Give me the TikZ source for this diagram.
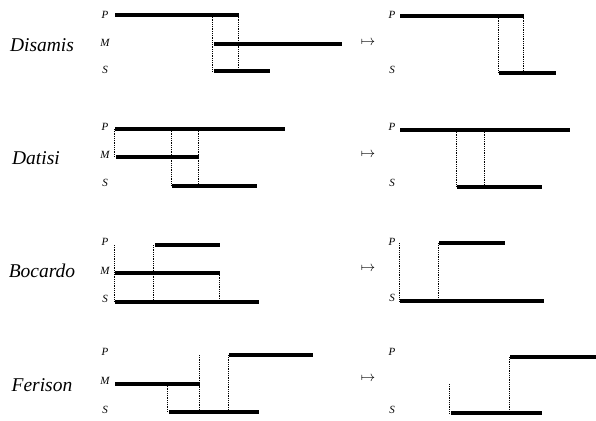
\documentclass[tikz,border=0pt]{standalone}
\usepackage{pgf}
\usepackage{fontspec}
\setmainfont{Liberation Serif}
\usetikzlibrary{positioning}

\begin{document}
\begin{tikzpicture}[x=1pt,y=-1pt,font=\large]
		\tikzstyle{bar}=[line width=3.2pt]
		\tikzstyle{guide}=[line width=0.7pt,dash pattern=on 0.8pt off 1pt]
		\tikzstyle{term}=[font=\fontsize{11}{13}\selectfont\itshape]
		\tikzstyle{mood}=[font=\fontsize{19.5}{23}\selectfont\itshape]
		\tikzstyle{maps}=[font=\Large]
		\useasboundingbox (0,0) rectangle (596,420);
		
		% Disamis
		\node[mood]  (disamis) at (42,45)  {Disamis};
		\node[term]  (p1)  at (105,15)  {P};
		\node[term]  (m1)  at (105,43)  {M};
		\node[term]  (s1)  at (105,70)  {S};
		\draw[bar]   (115,15) -- (239,15);
		\draw[bar]   (214,44) -- (342,44);
		\draw[bar]   (214,71) -- (270,71);
		\draw[guide] (212,15) -- (212,71);
		\draw[guide] (238,15) -- (238,71);
		\node[maps]  (to1) at (368,43)  {$\mapsto$};
		\node[term]  (p1r) at (392,15)  {P};
		\node[term]  (s1r) at (392,70)  {S};
		\draw[bar]   (400,16) -- (524,16);
		\draw[bar]   (499,73) -- (556,73);
		\draw[guide] (498,16) -- (498,73);
		\draw[guide] (523,16) -- (523,73);
		
		% Datisi
		\node[mood]  (datisi) at (36,158)  {Datisi};
		\node[term]  (p2)  at (105,127) {P};
		\node[term]  (m2)  at (105,155) {M};
		\node[term]  (s2)  at (105,183) {S};
		\draw[bar]   (115,129) -- (285,129);
		\draw[bar]   (116,157) -- (199,157);
		\draw[bar]   (172,186) -- (257,186);
		\draw[guide] (114,129) -- (114,157);
		\draw[guide] (171,129) -- (171,186);
		\draw[guide] (198,129) -- (198,186);
		\node[maps]  (to2) at (368,155) {$\mapsto$};
		\node[term]  (p2r) at (392,127) {P};
		\node[term]  (s2r) at (392,183) {S};
		\draw[bar]   (400,130) -- (570,130);
		\draw[bar]   (457,187) -- (542,187);
		\draw[guide] (456,130) -- (456,187);
		\draw[guide] (484,130) -- (484,187);
		
		% Bocardo
		\node[mood]  (bocardo) at (42,271) {Bocardo};
		\node[term]  (p3)  at (105,242) {P};
		\node[term]  (m3)  at (105,271) {M};
		\node[term]  (s3)  at (105,299) {S};
		\draw[bar]   (155,245) -- (220,245);
		\draw[bar]   (115,273) -- (220,273);
		\draw[bar]   (115,302) -- (259,302);
		\draw[guide] (114,245) -- (114,302);
		\draw[guide] (153,245) -- (153,302);
		\draw[guide] (219,273) -- (219,302);
		\node[maps]  (to3) at (368,269) {$\mapsto$};
		\node[term]  (p3r) at (392,242) {P};
		\node[term]  (s3r) at (392,298) {S};
		\draw[bar]   (439,243) -- (505,243);
		\draw[bar]   (400,301) -- (544,301);
		\draw[guide] (399,243) -- (399,301);
		\draw[guide] (438,243) -- (438,301);
		
		% Ferison
		\node[mood]  (ferison) at (42,385) {Ferison};
		\node[term]  (p4)  at (105,352) {P};
		\node[term]  (m4)  at (105,381) {M};
		\node[term]  (s4)  at (105,410) {S};
		\draw[bar]   (229,355) -- (313,355);
		\draw[bar]   (115,384) -- (200,384);
		\draw[bar]   (169,412) -- (259,412);
		\draw[guide] (167,384) -- (167,412);
		\draw[guide] (199,355) -- (199,412);
		\draw[guide] (228,355) -- (228,412);
		\node[maps]  (to4) at (368,379) {$\mapsto$};
		\node[term]  (p4r) at (392,352) {P};
		\node[term]  (s4r) at (392,410) {S};
		\draw[bar]   (510,357) -- (596,357);
		\draw[bar]   (451,413) -- (542,413);
		\draw[guide] (449,384) -- (449,413);
		\draw[guide] (509,357) -- (509,413);
\end{tikzpicture}
\end{document}
